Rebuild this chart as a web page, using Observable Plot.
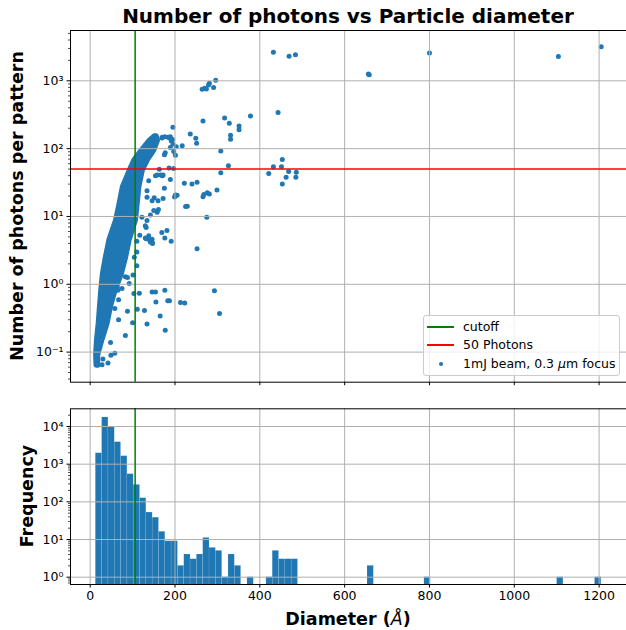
<!DOCTYPE html>
<html><head><meta charset="utf-8">
<script src="https://cdn.jsdelivr.net/npm/d3@7"></script>
<script src="https://cdn.jsdelivr.net/npm/@observablehq/plot@0.6"></script>
<style>
html,body{margin:0;padding:0;background:#fff;}
#fig{position:relative;width:626px;height:630px;font-family:"DejaVu Sans",sans-serif;overflow:hidden;color:#000;}
#fig svg{position:absolute;left:0;}
.title{position:absolute;left:70px;width:556px;top:4px;line-height:24px;text-align:center;font-weight:bold;font-size:20px;white-space:nowrap;}
.ylab{position:absolute;font-weight:bold;font-size:17.5px;white-space:nowrap;transform:translate(-50%,-50%) rotate(-90deg);line-height:20px;}
.xlab{position:absolute;font-weight:bold;font-size:17.5px;white-space:nowrap;transform:translate(-50%,-50%);line-height:20px;}
.legend{position:absolute;left:423px;top:315px;width:197px;height:61px;border:1px solid #cccccc;border-radius:3px;background:rgba(255,255,255,0.8);box-sizing:border-box;font-size:12.5px;}
.legend .ln{position:absolute;left:3px;width:27px;height:1.5px;}
.legend .tx{position:absolute;left:39px;line-height:14px;white-space:nowrap;transform:translateY(-50%);}
.legend .dt{position:absolute;left:15px;width:4px;height:4px;border-radius:50%;background:#1f77b4;transform:translateY(-50%);}
</style>
</head><body>
<div id="fig">
  <div class="title">Number of photons vs Particle diameter</div>
  <div class="ylab" style="left:17px;top:206px;">Number of photons per pattern</div>
  <div class="ylab" style="left:27px;top:496px;">Frequency</div>
  <div class="xlab" style="left:348px;top:619px;">Diameter (<span style="font-style:italic;font-weight:normal;">Å</span>)</div>
</div>
<script>
// ---------- data ----------
const xTicks = [0, 200, 400, 600, 800, 1000, 1200];
const topMajorY = [0.1, 1, 10, 100, 1000];
const bottomMajorY = [1, 10, 100, 1000, 10000];
const minorMult = [2, 3, 4, 5, 6, 7, 8, 9];
const topDecades = [0.01, 0.1, 1, 10, 100, 1000];
const bottomDecades = [0.1, 1, 10, 100, 1000, 10000];

const cutoffDiameter = [106];
const photonThreshold = [50];

// dense cloud of particles (envelope)
const bandPhotons = [0.063, 0.09, 0.15, 0.26, 0.46, 0.8, 1.42, 2.5, 4.4, 8.7, 15, 27, 47, 67, 93, 130, 152];
const bandDiamLow = [15, 14, 16, 20, 23, 26, 30, 37, 45, 61, 69, 77, 93, 104, 121, 140, 152];
const bandDiamHigh = [19, 19, 29, 41, 49, 60, 75, 85, 93, 108, 112, 116, 124, 136, 151, 160, 157];

// individual particles outside the dense cloud
const pointDiameter = [432,469,484,656,658,800,1104,1205,296,281,279,291,270,264,274,443,378,317,266,328,351,351,331,331,
  195,236,249,251,217,203,308,189,194,195,197,170,184,193,189,169,176,187,191,326,308,432,453,451,421,468,462,453,486,485,
  222,240,252,299,276,281,268,266,205,199,201,151,172,229,225,275,175,186,166,172,158,189,161,142,163,170,201,175,177,197,
  138,154,134,146,160,134,150,158,122,134,252,146,191,176,132,117,132,130,110,110,104,110,101,83,88,92,64,65,75,
  103,116,146,154,176,155,183,187,213,223,293,67,58,111,128,88,67,100,134,165,177,305,83,48,58,49,42,28,30,
  142,147,140,169,181,138,146,130];
const pointPhotons = [2630,2300,2430,1265,1233,2580,2275,3190,1020,920,870,800,775,750,760,340,303,284,256,236,216,190,157,137,
  206,165,142,120,110,107,92,150,136,117,91,147,147,134,104,144,150,145,131,56,44,54,69,54,43,46,38,30,45,38,
  31,30,32,24.6,22.4,21.5,21,19.6,20.5,19.4,20.7,18.8,18.4,14.1,14,9.7,26,52,41,41,41,35,12.7,10.5,49.5,40,80,81,87,51,
  33.7,40,24,17.1,17.1,19.2,12.2,11.5,9.7,8.7,3.35,4.15,4.3,4.8,4.7,5.3,6.9,7.3,4.3,3.0,2.5,1.88,1.37,1.29,1.26,1.03,0.9,0.82,0.87,
  0.73,0.74,0.77,0.77,0.82,0.55,0.57,0.57,0.54,0.53,0.8,0.59,0.44,0.43,0.41,0.40,0.30,0.27,0.26,0.34,0.21,0.37,0.175,0.139,0.096,0.09,0.069,0.065,0.079,
  4.2,4.0,4.5,5.8,6.2,5.2,4.6,4.8];

// histogram: 80 equal bins (rows of 10)
const histStart = 13.2;
const histBinWidth = 14.9;
const histCounts = [
  1950, 17400, 9800, 3840, 1630, 543, 282, 125, 52, 38,   // 0-9
  16, 9, 9, 2, 4, 3, 4, 11, 6, 5,                        // 10-19
  1, 4, 2, 0, 1, 0, 0, 1, 5, 3,                          // 20-29
  3, 3, 0, 0, 0, 0, 0, 0, 0, 0,                          // 30-39
  0, 0, 0, 2, 0, 0, 0, 0, 0, 0,                          // 40-49
  0, 0, 1, 0, 0, 0, 0, 0, 0, 0,                          // 50-59
  0, 0, 0, 0, 0, 0, 0, 0, 0, 0,                          // 60-69
  0, 0, 0, 1, 0, 0, 0, 0, 0, 1                           // 70-79
];
const histBase = 0.1;

// ---------- build ----------
const blue = "#1f77b4";
const gridColor = "#b0b0b0";
const xDomain = [-46.4, 1264.6];
const supMap = {"-":"⁻","0":"⁰","1":"¹","2":"²","3":"³","4":"⁴","5":"⁵","6":"⁶","7":"⁷","8":"⁸","9":"⁹"};
const sup = d => "10" + String(Math.round(Math.log10(d))).split("").map(c => supMap[c]).join("");
const style = {fontFamily: "DejaVu Sans", fontSize: "12.5px", background: "transparent", overflow: "visible", color: "#000"};

const band = bandPhotons.map((n, i) => ({n, lo: bandDiamLow[i], hi: bandDiamHigh[i]}));
const points = pointDiameter.map((d, i) => ({d, n: pointPhotons[i]}));
const bins = histCounts.map((c, i) => ({x1: histStart + i * histBinWidth, x2: histStart + (i + 1) * histBinWidth, c, b: histBase})).filter(b => b.c > 0);

const topYDomain = [0.036, 5520];
const botYDomain = [0.64, 29500];
const minorTop = topDecades.flatMap(d => minorMult.map(m => m * d)).filter(v => v >= topYDomain[0] && v <= topYDomain[1]);
const minorBot = bottomDecades.flatMap(d => minorMult.map(m => m * d)).filter(v => v >= botYDomain[0] && v <= botYDomain[1]);

const topPlot = Plot.plot({
  width: 626, height: 392,
  marginLeft: 70, marginRight: 0, marginTop: 30, marginBottom: 10.3,
  style,
  x: {domain: xDomain, label: null},
  y: {type: "log", domain: topYDomain, label: null},
  marks: [
    Plot.areaX(band, {y: "n", x1: "lo", x2: "hi", fill: blue, stroke: blue, strokeWidth: 5, strokeLinejoin: "round"}),
    Plot.dot(points, {x: "d", y: "n", r: 2.5, fill: blue, stroke: "none"}),
    Plot.gridX(xTicks, {stroke: gridColor, strokeOpacity: 1, strokeWidth: 1}),
    Plot.gridY(topMajorY, {stroke: gridColor, strokeOpacity: 1, strokeWidth: 1}),
    Plot.ruleX(cutoffDiameter, {stroke: "green", strokeWidth: 1.5}),
    Plot.ruleY(photonThreshold, {stroke: "red", strokeWidth: 1.5}),
    Plot.frame({stroke: "black", strokeWidth: 1}),
    Plot.axisX(xTicks, {tickSize: 3.5, tickFormat: () => "", label: null}),
    Plot.axisY(minorTop, {tickSize: 2, tickFormat: () => "", label: null, strokeWidth: 0.7}),
    Plot.axisY(topMajorY, {tickSize: 3.5, tickPadding: 3.5, tickFormat: sup, label: null})
  ]
});

const botPlot = Plot.plot({
  width: 626, height: 238,
  marginLeft: 70, marginRight: 0, marginTop: 16.3, marginBottom: 46,
  style,
  x: {domain: xDomain, label: null},
  y: {type: "log", domain: botYDomain, label: null},
  marks: [
    Plot.rect(bins, {x1: "x1", x2: "x2", y1: "b", y2: "c", fill: blue, stroke: "#ffffff", strokeOpacity: 0.2, strokeWidth: 0.5, clip: true}),
    Plot.gridX(xTicks, {stroke: gridColor, strokeOpacity: 1, strokeWidth: 1}),
    Plot.gridY(bottomMajorY, {stroke: gridColor, strokeOpacity: 1, strokeWidth: 1}),
    Plot.ruleX(cutoffDiameter, {stroke: "green", strokeWidth: 1.5}),
    Plot.frame({stroke: "black", strokeWidth: 1}),
    Plot.axisX(xTicks, {tickSize: 3.5, tickPadding: 3.5, tickFormat: d => String(d), label: null}),
    Plot.axisY(minorBot, {tickSize: 2, tickFormat: () => "", label: null, strokeWidth: 0.7}),
    Plot.axisY(bottomMajorY, {tickSize: 3.5, tickPadding: 3.5, tickFormat: sup, label: null})
  ]
});

const fig = document.getElementById("fig");
topPlot.style.top = "0px";
botPlot.style.top = "392px";
fig.insertBefore(topPlot, fig.firstChild);
fig.insertBefore(botPlot, fig.firstChild);

// legend
const legend = document.createElement("div");
legend.className = "legend";
legend.innerHTML = `
  <div class="ln" style="top:10px;background:green;"></div><div class="tx" style="top:10.5px;">cutoff</div>
  <div class="ln" style="top:28px;background:red;"></div><div class="tx" style="top:28.5px;">50 Photons</div>
  <div class="dt" style="top:47.5px;"></div><div class="tx" style="top:47.5px;">1mJ beam, 0.3 <i>μ</i>m focus</div>`;
fig.appendChild(legend);
</script>
</body></html>
